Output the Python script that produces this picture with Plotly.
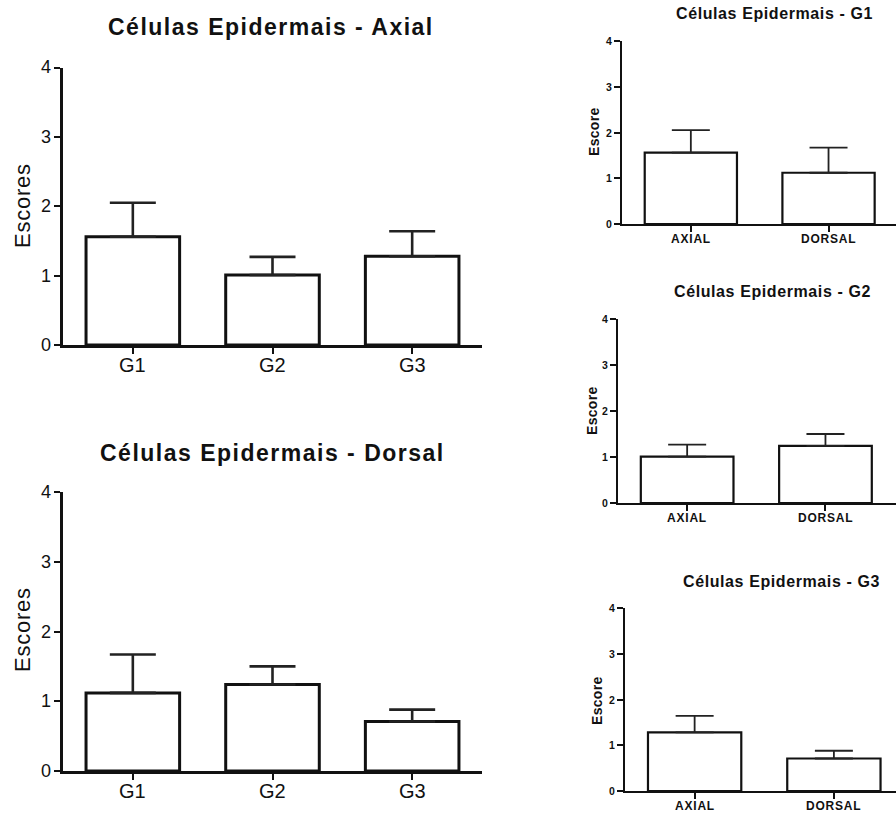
import plotly.graph_objects as go

W, H = 896, 813

# Scores (mean and standard deviation) per group and leaf face
groups = ["G1", "G2", "G3"]
faces = ["AXIAL", "DORSAL"]
axial_mean = [1.56, 1.01, 1.28]
axial_sd = [0.49, 0.26, 0.36]
dorsal_mean = [1.12, 1.24, 0.71]
dorsal_sd = [0.55, 0.26, 0.17]
y_ticks = [0, 1, 2, 3, 4]

FONT = "Liberation Sans, Arial, sans-serif"
INK = "#111111"


def xdom(a, b):
    return [a / W, b / W]


def ydom(top, bottom):
    return [1 - bottom / H, 1 - top / H]


def spaced(text, px):
    return f'<span style="letter-spacing:{px}px">{text}</span>'


fig = go.Figure()

# panel layout: pixel box of the plotting area, x range, font sizes and line widths
panels = [
    dict(cats=groups, mean=axial_mean, sd=axial_sd,
         title="Células Epidermais - Axial", ylab="Escores",
         box=(63, 482, 67.5, 345), xr=[-0.5, 2.5],
         title_xy=(271, 27), ylab_xy=(22, 206),
         tfs=23, lfs=22, tick=18, xtick=20, bold=False,
         xlab_dy=20, ylab_dx=10, xtrack=0,
         lw=3, bw=3, ew=2.6, cap=23, track=1.5),
    dict(cats=groups, mean=dorsal_mean, sd=dorsal_sd,
         title="Células Epidermais - Dorsal", ylab="Escores",
         box=(63, 482, 492, 771), xr=[-0.5, 2.5],
         title_xy=(272, 453), ylab_xy=(22, 630),
         tfs=23, lfs=22, tick=18, xtick=20, bold=False,
         xlab_dy=20, ylab_dx=10, xtrack=0,
         lw=3, bw=3, ew=2.6, cap=23, track=1.5),
]
boxes = [(622, 896, 41, 224), (618, 896, 319, 503), (625, 896, 608, 791)]
xrs = [[-0.5, 1.49], [-0.5, 1.51], [-0.5, 1.446]]
txy = [(774, 14), (772, 291), (781, 581)]
lxy = [(594, 132), (592, 411), (597, 701)]
for i in range(3):
    panels.append(dict(
        cats=faces, mean=[axial_mean[i], dorsal_mean[i]],
        sd=[axial_sd[i], dorsal_sd[i]],
        title=f"Células Epidermais - {groups[i]}", ylab="Escore",
        box=boxes[i], xr=xrs[i], title_xy=txy[i], ylab_xy=lxy[i],
        tfs=16, lfs=14, tick=10.5, xtick=12, bold=True,
        xlab_dy=15, ylab_dx=8, xtrack=0.8,
        lw=2.2, bw=2.2, ew=1.8, cap=19, track=0.6))

annotations = []


def label(text, x, y, xref, yref, size, bold, xanchor="center", angle=0):
    annotations.append(dict(
        text=text, x=x, y=y, xref=xref, yref=yref, xanchor=xanchor,
        yanchor="middle", textangle=angle, showarrow=False,
        font=dict(family=FONT, size=size, color=INK,
                  weight="bold" if bold else "normal")))


for k, p in enumerate(panels, start=1):
    suffix = "" if k == 1 else str(k)
    xa, ya = f"x{suffix}", f"y{suffix}"
    fig.add_trace(go.Bar(
        x=p["cats"], y=p["mean"], xaxis=xa, yaxis=ya, width=0.67,
        marker=dict(color="white", line=dict(color=INK, width=p["bw"])),
        error_y=dict(type="data", symmetric=False, array=p["sd"],
                     arrayminus=[0] * len(p["sd"]), color="#222222",
                     thickness=p["ew"], width=p["cap"]),
        hoverinfo="skip",
    ))
    x0, x1, yt, yb = p["box"]
    common = dict(showline=True, linecolor=INK, linewidth=p["lw"],
                  showgrid=False, zeroline=False, ticks="outside",
                  ticklen=6, tickwidth=2, tickcolor=INK,
                  showticklabels=False)
    fig.layout[f"xaxis{suffix}"] = dict(
        domain=xdom(x0, x1), anchor=ya, type="category", range=p["xr"],
        **common)
    fig.layout[f"yaxis{suffix}"] = dict(
        domain=ydom(yt, yb), anchor=xa, range=[0, 4], tickvals=y_ticks,
        **common)

    # tick labels, placed on the axes' own scales
    for c in p["cats"]:
        text = spaced(c, p["xtrack"]) if p["xtrack"] else c
        label(text, c, 1 - (yb + p["xlab_dy"]) / H, xa, "paper",
              p["xtick"], p["bold"])
    for v in y_ticks:
        label(str(v), (x0 - p["ylab_dx"]) / W, v, "paper", ya,
              p["tick"], p["bold"], xanchor="right")

    tx, ty = p["title_xy"]
    label(spaced(p["title"], p["track"]), tx / W, 1 - ty / H,
          "paper", "paper", p["tfs"], True)
    lx, ly = p["ylab_xy"]
    label(spaced(p["ylab"], p["track"] * 0.5), lx / W, 1 - ly / H,
          "paper", "paper", p["lfs"], p["bold"], angle=-90)

fig.update_layout(
    width=W, height=H, margin=dict(l=0, r=0, t=0, b=0),
    paper_bgcolor="white", plot_bgcolor="white", showlegend=False,
    annotations=annotations,
)

fig.write_html("out.html")
